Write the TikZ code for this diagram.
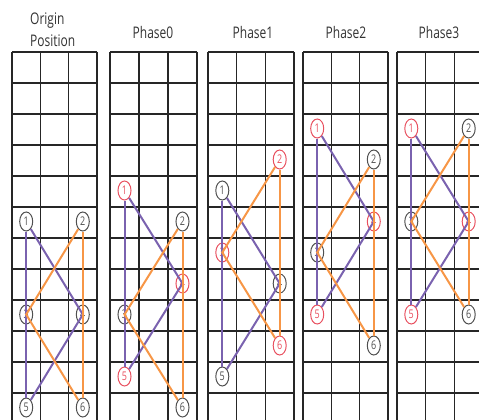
\documentclass[tikz,border=0pt]{standalone}
\usepackage{fontspec}
\newfontfamily\labfont[FakeStretch=0.75]{Open Sans}
\usetikzlibrary{shapes.geometric}
\definecolor{purp}{RGB}{122,98,175}
\definecolor{oran}{RGB}{247,150,70}
\definecolor{redc}{RGB}{232,80,95}
\definecolor{grayc}{RGB}{80,80,80}
\begin{document}
\begin{tikzpicture}[x=1pt,y=-1pt,
  gridline/.style={line width=1.5pt, draw=black!85},
  ttl/.style={font=\labfont\fontsize{16}{19}\selectfont, text=black!80, inner sep=0pt},
  mk/.style={ellipse, draw=#1, text=#1, line width=1pt, minimum width=13pt, minimum height=19pt, inner sep=0pt, font=\labfont\fontsize{12}{12}\selectfont},
  gr/.style={mk=grayc},
  rd/.style={mk=redc},
  pline/.style={draw=purp, line width=2pt},
  oline/.style={draw=oran, line width=2pt}]
\useasboundingbox (0,0) rectangle (479,420);
\clip (0,0) rectangle (479,420);
% grids
\foreach \L/\R in {12/97,110/197,208/294,303/388,397/483}{
  \foreach \k in {0,...,12}{
    \draw[gridline] (\L,{52+31*\k}) -- (\R,{52+31*\k});
  }
  \foreach \j in {0,1,2,3}{
    \draw[gridline] ({\L+\j*(\R-\L)/3},52) -- ({\L+\j*(\R-\L)/3},424);
  }
}
% titles
\node[ttl, anchor=base west] (t0a) at (30,25) {Origin};
\node[ttl, anchor=base west] (t0b) at (30,47) {Position};
\node[ttl, anchor=base] (t1) at (153,38) {Phase0};
\node[ttl, anchor=base] (t2) at (253,38) {Phase1};
\node[ttl, anchor=base] (t3) at (346,38) {Phase2};
\node[ttl, anchor=base] (t4) at (439,38) {Phase3};
% Origin
\node[gr] (a1) at (26.2,221.5) {1};
\node[gr] (a2) at (82.8,221.5) {2};
\node[gr] (a3) at (26.2,314.5) {3};
\node[gr] (a4) at (82.8,314.5) {4};
\node[gr] (a5) at (26.2,407.5) {5};
\node[gr] (a6) at (82.8,407.5) {6};
% Phase0
\node[rd] (b1) at (124.5,190.5) {1};
\node[gr] (b2) at (182.5,221.5) {2};
\node[gr] (b3) at (124.5,314.5) {3};
\node[rd] (b4) at (182.5,283.5) {4};
\node[rd] (b5) at (124.5,376.5) {5};
\node[gr] (b6) at (182.5,407.5) {6};
% Phase1
\node[gr] (c1) at (222.3,190.5) {1};
\node[rd] (c2) at (279.7,159.5) {2};
\node[rd] (c3) at (222.3,252.5) {3};
\node[gr] (c4) at (279.7,283.5) {4};
\node[gr] (c5) at (222.3,376.5) {5};
\node[rd] (c6) at (279.7,345.5) {6};
% Phase2
\node[rd] (d1) at (317.2,128.5) {1};
\node[gr] (d2) at (373.8,159.5) {2};
\node[gr] (d3) at (317.2,252.5) {3};
\node[rd] (d4) at (373.8,221.5) {4};
\node[rd] (d5) at (317.2,314.5) {5};
\node[gr] (d6) at (373.8,345.5) {6};
% Phase3
\node[rd] (e1) at (411.3,128.5) {1};
\node[gr] (e2) at (468.7,128.5) {2};
\node[gr] (e3) at (411.3,221.5) {3};
\node[rd] (e4) at (468.7,221.5) {4};
\node[rd] (e5) at (411.3,314.5) {5};
\node[gr] (e6) at (468.7,314.5) {6};
% connectors
\foreach \p in {a,b,c,d,e}{
  \draw[pline] (\p1) -- (\p5);
  \draw[pline] (\p1) -- (\p4.center) -- (\p5);
  \draw[oline] (\p2) -- (\p6);
  \draw[oline] (\p2) -- (\p3.center) -- (\p6);
}
\end{tikzpicture}
\end{document}
